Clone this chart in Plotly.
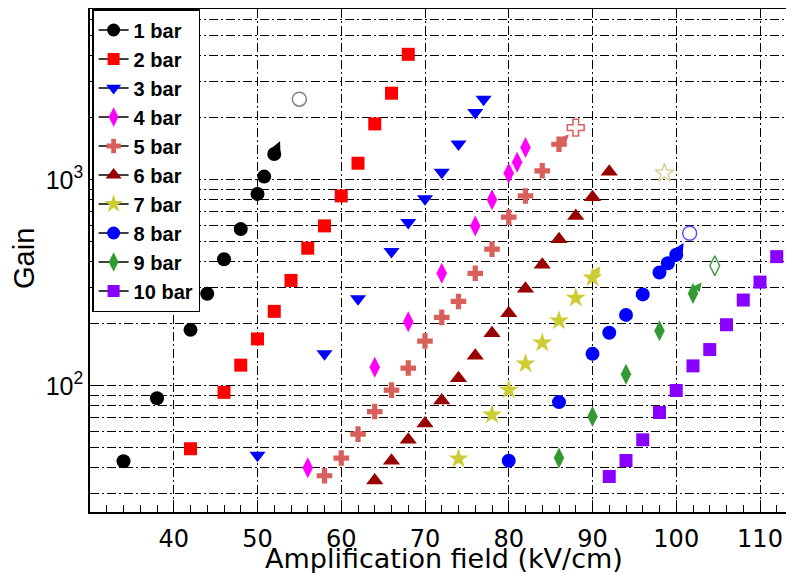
import math
import plotly.graph_objects as go

# ---------------- data ----------------
series_names = ["1 bar", "2 bar", "3 bar", "4 bar", "5 bar",
                "6 bar", "7 bar", "8 bar", "9 bar", "10 bar"]

field_1bar = [34, 38, 42, 44, 46, 48, 50, 50.8, 52]
gain_1bar = [43, 87, 187, 280, 412, 577, 855, 1038, 1337]

field_2bar = [42, 46, 48, 50, 52, 54, 56, 58, 60, 62, 64, 66, 68]
gain_2bar = [49.5, 93, 126, 169, 230, 325, 466, 598, 836, 1205, 1870, 2637, 4073]

field_3bar = [50, 58, 62, 66, 68, 70, 72, 74, 76, 77]
gain_3bar = [46, 143, 265, 449, 621, 809, 1089, 1495, 2123, 2466]

field_4bar = [56, 64, 68, 72, 76, 78, 80, 81, 82]
gain_4bar = [40, 123, 205, 352, 598, 800, 1078, 1219, 1436]

field_5bar = [58, 60, 62, 64, 66, 68, 70, 72, 74, 76, 78, 80, 82, 84, 86]
gain_5bar = [36.6, 44.6, 58.3, 75, 95.3, 122, 165, 215, 257, 352, 461, 659, 836, 1107, 1490]

field_6bar = [64, 66, 68, 70, 72, 74, 76, 78, 80, 82, 84, 86, 88, 90, 92]
gain_6bar = [34.7, 43.3, 54.8, 65.6, 84.9, 109, 140, 180, 225, 296, 387, 515, 668, 824, 1097]

field_7bar = [74, 78, 80, 82, 84, 86, 88, 90]
gain_7bar = [44.3, 72.3, 95.6, 128, 162, 207, 267, 335]

field_8bar = [80, 86, 90, 92, 94, 96, 98, 99, 100]
gain_8bar = [43.3, 83.4, 143, 181, 221, 278, 355, 394, 433]

field_9bar = [86, 90, 94, 98, 102]
gain_9bar = [44.6, 71, 114, 185, 281]

field_10bar = [92, 94, 96, 98, 100, 102, 104, 106, 108, 110, 112]
gain_10bar = [36.3, 43.4, 54.7, 74.2, 94.9, 125, 150, 198, 261, 319, 424]

# open markers (upper limits) and which series they belong to
open_series = ["1 bar", "5 bar", "7 bar", "8 bar", "9 bar"]
open_field = [55, 88, 98.6, 101.6, 104.6]
open_gain = [2466, 1795, 1079, 551, 383]

x_tick_vals = [40, 50, 60, 70, 80, 90, 100, 110]
y_major_vals = [100, 1000]
y_major_text = ["10<sup>2</sup>", "10<sup>3</sup>"]

# ---------------- styles ----------------
fields = [field_1bar, field_2bar, field_3bar, field_4bar, field_5bar,
          field_6bar, field_7bar, field_8bar, field_9bar, field_10bar]
gains = [gain_1bar, gain_2bar, gain_3bar, gain_4bar, gain_5bar,
         gain_6bar, gain_7bar, gain_8bar, gain_9bar, gain_10bar]
colors = ["#000000", "#ff0000", "#0000ff", "#ff00ff", "#d9605a",
          "#990000", "#cccc33", "#0000ff", "#339933", "#8800ff"]
symbols = ["circle", "square", "triangle-down", "diamond-tall", "cross",
           "triangle-up", "star", "circle", "diamond-tall", "square"]
sizes = [14, 13, 14, 15, 13, 15, 15, 14, 15, 13]
open_symbols = {"1 bar": "circle-open", "5 bar": "cross-open", "7 bar": "star-open",
                "8 bar": "circle-open", "9 bar": "diamond-tall-open"}
open_colors = {"1 bar": "#808080", "5 bar": "#d9605a", "7 bar": "#d6d29a",
               "8 bar": "#5555ff", "9 bar": "#44a044"}

FONT = "Liberation Sans, Arial, Helvetica, sans-serif"
FONT_WIDE = "DejaVu Sans, Liberation Sans, sans-serif"
# the page body has an 8px margin, so the figure is laid out 8px up/left
W, H = 786, 565
ML, MR, MT, MB = 82, 0, 1, 61
XR = [30, 114.06]
YR = [math.log10(24.4), math.log10(6760)]

fig = go.Figure()

for name, xs, ys, c, s, sz in zip(series_names, fields, gains, colors, symbols, sizes):
    fig.add_trace(go.Scatter(x=xs, y=ys, mode="markers", name=name, showlegend=False,
                             marker=dict(symbol=s, size=sz, color=c, line=dict(width=0))))
    # legend entry with a line through the marker
    fig.add_trace(go.Scatter(x=[None], y=[None], mode="lines+markers", name=name,
                             showlegend=True,
                             line=dict(color="black", width=1.5),
                             marker=dict(symbol=s, size=sz - 1, color=c, line=dict(width=0))))

for name, ox, oy in zip(open_series, open_field, open_gain):
    fig.add_trace(go.Scatter(x=[ox], y=[oy], mode="markers", showlegend=False,
                             marker=dict(symbol=open_symbols[name], size=14,
                                         color=open_colors[name],
                                         line=dict(width=1.5, color=open_colors[name]))))

# small arrows from the last measured point toward the open marker
plot_w = W - ML - MR
plot_h = H - MT - MB
px_per_x = plot_w / (XR[1] - XR[0])
px_per_dec = plot_h / (YR[1] - YR[0])
ARROW_PX = 14
annotations = []
for name, ox, oy in zip(open_series, open_field, open_gain):
    i = series_names.index(name)
    lx, ly = fields[i][-1], gains[i][-1]
    dxp = (ox - lx) * px_per_x
    dyp = (math.log10(oy) - math.log10(ly)) * px_per_dec
    L = math.hypot(dxp, dyp)
    hx = lx + dxp / L * ARROW_PX / px_per_x
    hy = math.log10(ly) + dyp / L * ARROW_PX / px_per_dec
    annotations.append(dict(x=hx, y=hy, ax=lx, ay=math.log10(ly), xref="x", yref="y",
                            axref="x", ayref="y", text="", showarrow=True,
                            arrowhead=2, arrowsize=0.9, arrowwidth=2,
                            arrowcolor=colors[i], standoff=0, startstandoff=0))

# axis titles
annotations.append(dict(text="Amplification field (kV/cm)", xref="paper", yref="paper",
                        x=(436 - ML) / plot_w, y=(H - MB - 550) / plot_h,
                        xanchor="center", yanchor="middle", showarrow=False,
                        font=dict(family=FONT_WIDE, size=27, color="black")))
annotations.append(dict(text="Gain", xref="paper", yref="paper",
                        x=(16 - ML) / plot_w, y=(H - MB - 251) / plot_h, textangle=-90,
                        xanchor="center", yanchor="middle", showarrow=False,
                        font=dict(family=FONT, size=29, color="black")))

# minor y grid at every 2..9 x 10^n
y_minor_vals = []
for dec in [10, 100, 1000]:
    for m in range(2, 10):
        v = m * dec
        if 24.4 <= v <= 6760:
            y_minor_vals.append(v)

GRID_DASH = "9px,3px,2px,3px"

fig.update_layout(
    width=W, height=H,
    margin=dict(l=ML, r=MR, t=MT, b=MB),
    paper_bgcolor="white", plot_bgcolor="white",
    font=dict(family=FONT, color="black"),
    showlegend=True,
    legend=dict(x=0.003, y=1, xanchor="left", yanchor="top",
                bgcolor="white", bordercolor="black", borderwidth=1.5,
                font=dict(family=FONT, size=20, color="black", weight="bold"),
                itemwidth=30, tracegroupgap=0),
    xaxis=dict(range=XR, tickvals=x_tick_vals, ticks="inside", ticklen=12, tickwidth=1.3,
               tickcolor="black", showline=True, linecolor="black", linewidth=1.5,
               mirror=True, showgrid=True, gridcolor="black", gridwidth=1.2,
               griddash=GRID_DASH, zeroline=False, ticklabelstandoff=4,
               tickfont=dict(family=FONT_WIDE, size=24, color="black"),
               minor=dict(dtick=2, ticks="inside", ticklen=7, tickwidth=1.2,
                          tickcolor="black", showgrid=False)),
    yaxis=dict(type="log", range=YR, tickvals=y_major_vals, ticktext=y_major_text,
               ticks="inside", ticklen=12, tickwidth=1.3, tickcolor="black",
               showline=True, linecolor="black", linewidth=1.5, mirror=False,
               showgrid=True, gridcolor="black", gridwidth=1.2, griddash=GRID_DASH,
               zeroline=False, tickfont=dict(family=FONT, size=25, color="black"),
               minor=dict(tickvals=y_minor_vals, ticks="inside", ticklen=7,
                          tickwidth=1.2, tickcolor="black", showgrid=True,
                          gridcolor="black", gridwidth=1.2, griddash=GRID_DASH)),
    annotations=annotations,
)

fig.write_html("out.html")
